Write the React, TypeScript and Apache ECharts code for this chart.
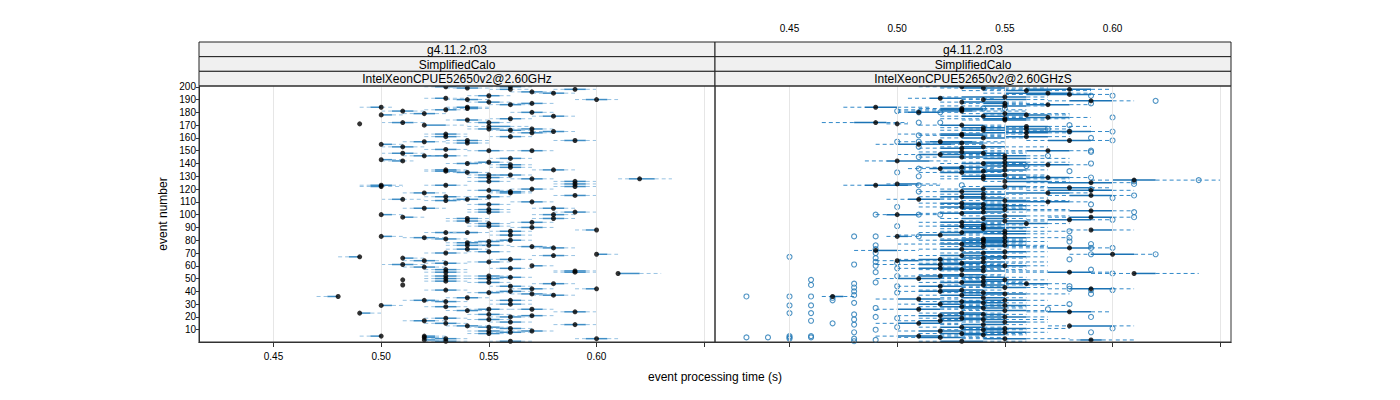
import React, { useEffect, useRef } from "react";
import * as echarts from "echarts";

// ---------- data ----------
const X_TICKS = [0.45, 0.5, 0.55, 0.6, 0.65];
const X_LABELS = [0.45, 0.5, 0.55, 0.6];
const Y_TICKS = [10, 20, 30, 40, 50, 60, 70, 80, 90, 100, 110, 120, 130, 140, 150, 160, 170, 180, 190, 200];
const STRIP_1 = ["g4.11.2.r03", "g4.11.2.r03"];
const STRIP_2 = ["SimplifiedCalo", "SimplifiedCalo"];
const STRIP_3 = ["IntelXeonCPUE52650v2@2.60GHz", "IntelXeonCPUE52650v2@2.60GHzS"];
const X_TITLE = "event processing time (s)";
const Y_TITLE = "event number";

// [event, lowerWhisker, q1, median, q3, upperWhisker]
const LEFT_STATS = [
  [200, .52, .525, .53, .535, .54], [199, .53, .535, .54, .545, .55], [200, .55, .555, .56, .565, .57],
  [198, .55, .555, .56, .56, .57], [198, .58, .585, .59, .595, .60], [196, .56, .565, .57, .575, .58],
  [195, .57, .575, .58, .585, .59], [193, .54, .545, .55, .555, .56], [191, .52, .525, .53, .53, .54],
  [190, .53, .535, .54, .545, .55], [190, .59, .595, .60, .605, .61], [188, .54, .545, .55, .555, .56],
  [187, .56, .565, .57, .575, .58], [186, .55, .555, .56, .565, .57], [184, .49, .495, .50, .50, .505],
  [184, .53, .535, .54, .545, .55], [183, .53, .54, .54, .545, .55], [182, .52, .525, .53, .535, .54],
  [181, .50, .505, .51, .515, .52], [180, .56, .565, .57, .575, .58], [179, .51, .515, .52, .525, .53],
  [178, .50, .50, .50, .505, .51], [177, .57, .575, .58, .585, .59], [175, .55, .555, .56, .565, .57],
  [174, .53, .535, .54, .545, .55], [172, .54, .545, .55, .555, .56], [172, .50, .505, .51, .515, .52],
  [171, .49, .49, .49, .49, .49], [170, .52, .52, .52, .53, .54], [169, .54, .55, .55, .56, .57],
  [167, .54, .545, .55, .555, .56], [167, .56, .565, .57, .575, .58], [166, .55, .555, .56, .565, .57],
  [165, .57, .575, .58, .585, .59], [164, .56, .565, .57, .575, .58], [163, .52, .525, .53, .535, .54],
  [161, .52, .525, .53, .535, .54], [161, .55, .555, .56, .565, .57], [158, .58, .585, .59, .595, .60],
  [158, .53, .535, .54, .545, .55], [157, .51, .515, .52, .525, .53], [156, .53, .535, .54, .545, .55],
  [155, .50, .50, .50, .505, .51], [153, .50, .505, .51, .515, .52], [151, .52, .525, .53, .535, .54],
  [150, .54, .545, .55, .555, .56], [150, .56, .565, .57, .575, .58], [148, .50, .505, .51, .515, .52],
  [146, .51, .515, .52, .525, .53], [146, .52, .525, .53, .535, .54], [144, .55, .555, .56, .565, .57],
  [143, .50, .50, .50, .505, .51], [142, .50, .505, .51, .51, .515], [141, .54, .545, .55, .555, .56],
  [140, .53, .535, .54, .545, .55], [139, .55, .555, .56, .565, .57], [137, .55, .555, .56, .565, .57],
  [135, .52, .525, .53, .535, .54], [135, .57, .575, .58, .585, .59], [134, .52, .525, .53, .535, .54],
  [133, .53, .535, .54, .545, .55], [131, .54, .545, .55, .555, .56], [131, .55, .555, .56, .565, .57],
  [129, .54, .545, .55, .555, .56], [128, .56, .565, .57, .575, .58], [128, .61, .615, .62, .627, .635],
  [126, .58, .585, .59, .595, .60], [126, .54, .545, .55, .555, .56], [124, .58, .585, .59, .595, .60],
  [123, .49, .495, .50, .505, .51], [123, .52, .525, .53, .535, .54], [122, .58, .585, .59, .595, .60],
  [122, .49, .495, .50, .50, .51], [120, .56, .565, .57, .575, .58], [119, .54, .545, .55, .555, .56],
  [118, .55, .555, .56, .565, .57], [117, .51, .515, .52, .525, .53], [117, .55, .555, .56, .565, .57],
  [115, .58, .585, .59, .595, .60], [114, .54, .545, .55, .555, .56], [114, .52, .525, .53, .535, .54],
  [112, .50, .505, .51, .51, .52], [112, .53, .535, .54, .545, .55], [111, .52, .525, .53, .535, .54],
  [110, .56, .565, .57, .575, .58], [108, .54, .545, .55, .555, .56], [105, .57, .575, .58, .585, .59],
  [105, .51, .515, .52, .525, .53], [104, .54, .545, .55, .555, .56], [102, .58, .585, .59, .595, .60],
  [102, .54, .545, .55, .555, .56], [100, .50, .50, .50, .505, .51], [100, .57, .575, .58, .585, .59],
  [98, .51, .51, .51, .515, .52], [97, .57, .575, .58, .585, .59], [97, .53, .535, .54, .545, .55],
  [95, .53, .535, .54, .545, .55], [94, .56, .565, .57, .575, .58], [93, .54, .545, .55, .555, .56],
  [91, .54, .545, .55, .555, .56], [90, .56, .565, .57, .575, .58], [88, .59, .595, .60, .60, .60],
  [87, .55, .555, .56, .565, .57], [86, .52, .525, .53, .535, .54], [86, .53, .535, .54, .545, .55],
  [84, .55, .555, .56, .565, .57], [83, .50, .50, .50, .505, .51], [82, .51, .515, .52, .525, .53],
  [81, .52, .525, .53, .535, .54], [80, .55, .555, .56, .565, .57], [79, .54, .545, .55, .555, .56],
  [78, .53, .535, .54, .545, .55], [76, .54, .545, .55, .555, .56], [76, .53, .535, .54, .545, .55],
  [75, .56, .565, .57, .575, .58], [74, .57, .575, .58, .585, .59], [73, .53, .535, .54, .545, .55],
  [71, .54, .545, .55, .555, .56], [70, .52, .525, .53, .535, .54], [69, .60, .60, .60, .605, .61],
  [68, .57, .575, .58, .585, .59], [67, .48, .485, .49, .49, .49], [66, .51, .51, .51, .515, .52],
  [65, .55, .555, .56, .565, .57], [64, .51, .515, .52, .525, .53], [63, .54, .545, .55, .555, .56],
  [62, .52, .525, .53, .535, .54], [61, .50, .505, .51, .515, .52], [60, .57, .57, .57, .575, .58],
  [59, .51, .515, .52, .525, .53], [58, .55, .555, .56, .565, .57], [57, .52, .525, .53, .535, .54],
  [56, .58, .585, .59, .595, .60], [55, .58, .585, .59, .595, .60], [55, .52, .525, .53, .535, .54],
  [54, .61, .61, .61, .62, .63], [52, .54, .545, .55, .555, .56], [52, .52, .525, .53, .535, .54],
  [51, .55, .555, .56, .565, .57], [50, .52, .525, .53, .535, .54], [50, .54, .545, .55, .555, .56],
  [49, .51, .51, .51, .51, .51], [48, .52, .525, .53, .535, .54], [47, .54, .545, .55, .555, .56],
  [46, .57, .575, .58, .585, .59], [45, .51, .51, .51, .51, .51], [44, .55, .555, .56, .565, .57],
  [42, .56, .565, .57, .575, .58], [42, .59, .595, .60, .60, .60], [41, .52, .525, .53, .535, .54],
  [40, .55, .555, .56, .565, .57], [39, .54, .545, .55, .555, .56], [38, .56, .565, .57, .575, .58],
  [37, .57, .575, .58, .585, .59], [36, .47, .475, .48, .48, .48], [35, .53, .535, .54, .545, .55],
  [33, .51, .515, .52, .525, .53], [33, .55, .555, .56, .565, .57], [32, .52, .525, .53, .535, .54],
  [30, .55, .555, .56, .565, .57], [29, .50, .50, .50, .505, .51], [28, .52, .525, .53, .535, .54],
  [26, .54, .545, .55, .555, .56], [26, .56, .565, .57, .575, .58], [25, .53, .535, .54, .545, .55],
  [24, .58, .585, .59, .595, .60], [23, .49, .49, .49, .495, .50], [22, .54, .545, .55, .555, .56],
  [21, .56, .565, .57, .575, .58], [20, .55, .555, .56, .565, .57], [19, .52, .525, .53, .535, .54],
  [18, .54, .545, .55, .555, .56], [17, .51, .515, .52, .525, .53], [16, .55, .555, .56, .565, .57],
  [15, .52, .525, .53, .535, .54], [14, .58, .585, .59, .595, .60], [13, .53, .535, .54, .545, .55],
  [12, .54, .545, .55, .555, .56], [11, .55, .555, .56, .565, .57], [9, .56, .565, .57, .575, .58],
  [9, .54, .545, .55, .555, .56], [8, .55, .555, .56, .565, .57], [7, .54, .545, .55, .555, .56],
  [5, .49, .495, .50, .50, .50], [5, .52, .52, .52, .525, .53], [4, .52, .52, .52, .525, .53],
  [3, .59, .595, .60, .605, .61], [3, .52, .525, .53, .535, .54], [2, .52, .52, .52, .525, .53],
  [1, .55, .555, .56, .565, .57], [1, .52, .525, .53, .535, .54],
];

const RIGHT_STATS = [
  [200, .51, .52, .53, .54, .55], [199, .52, .53, .54, .55, .57], [198, .54, .56, .58, .59, .60],
  [197, .53, .55, .56, .57, .59], [195, .54, .55, .57, .58, .59], [194, .55, .56, .58, .59, .60],
  [192, .52, .53, .55, .56, .57], [191, .505, .515, .52, .53, .545], [190, .53, .54, .54, .56, .57],
  [189, .57, .58, .59, .60, .61], [188, .52, .53, .53, .55, .56], [187, .53, .54, .55, .55, .57],
  [186, .55, .56, .57, .58, .59], [185, .52, .54, .55, .56, .57], [184, .475, .485, .49, .50, .515],
  [183, .51, .52, .53, .54, .55], [182, .50, .52, .53, .54, .56], [181, .50, .52, .53, .535, .56],
  [180, .50, .505, .51, .52, .53], [179, .53, .54, .55, .56, .58], [178, .54, .55, .56, .57, .58],
  [177, .52, .53, .54, .55, .56], [176, .55, .56, .57, .58, .59], [175, .52, .54, .55, .56, .58],
  [174, .53, .54, .55, .56, .57], [172, .465, .48, .49, .495, .505], [171, .495, .50, .50, .50, .505],
  [170, .51, .52, .53, .54, .55], [169, .54, .55, .56, .57, .59], [168, .52, .53, .54, .55, .56],
  [167, .53, .55, .56, .57, .58], [166, .52, .53, .54, .55, .57], [165, .55, .56, .58, .59, .60],
  [164, .53, .54, .56, .57, .58], [163, .50, .52, .53, .54, .56], [162, .51, .52, .53, .54, .55],
  [161, .54, .55, .56, .57, .58], [160, .52, .53, .54, .55, .56], [158, .56, .57, .58, .59, .60],
  [157, .50, .515, .52, .535, .55], [156, .51, .52, .53, .54, .55], [155, .49, .50, .51, .525, .54],
  [153, .52, .53, .54, .55, .57], [152, .51, .52, .53, .54, .55], [150, .54, .56, .57, .58, .59],
  [149, .51, .52, .53, .54, .56], [148, .52, .53, .54, .55, .56], [147, .50, .51, .52, .53, .55],
  [146, .53, .54, .55, .56, .57], [145, .51, .52, .53, .54, .55], [144, .53, .54, .55, .56, .58],
  [142, .485, .495, .50, .515, .525], [141, .53, .54, .55, .56, .58], [140, .52, .53, .54, .55, .56],
  [139, .54, .55, .57, .58, .59], [138, .53, .54, .55, .56, .57], [137, .51, .52, .53, .54, .55],
  [136, .505, .515, .52, .53, .545], [135, .53, .54, .55, .56, .57], [134, .52, .53, .54, .55, .56],
  [133, .51, .52, .53, .54, .55], [131, .53, .54, .55, .56, .57], [130, .52, .53, .54, .55, .57],
  [129, .55, .56, .57, .58, .59], [128, .52, .53, .54, .56, .58], [127, .59, .60, .61, .62, .65],
  [126, .54, .55, .55, .57, .58], [125, .56, .57, .59, .60, .61], [124, .495, .50, .50, .51, .52],
  [123, .475, .485, .49, .505, .52], [122, .53, .54, .55, .56, .57], [121, .55, .57, .58, .59, .60],
  [120, .52, .53, .54, .55, .56], [119, .56, .57, .59, .60, .61], [118, .51, .52, .53, .54, .55],
  [117, .54, .55, .57, .58, .59], [116, .52, .53, .54, .55, .56], [115, .57, .58, .59, .60, .61],
  [114, .51, .52, .53, .54, .55], [113, .52, .53, .54, .55, .57], [112, .495, .505, .51, .52, .53],
  [111, .53, .54, .55, .56, .58], [110, .54, .55, .57, .58, .59], [109, .51, .52, .53, .54, .55],
  [108, .52, .53, .54, .55, .56], [107, .53, .54, .55, .56, .57], [106, .51, .52, .53, .54, .56],
  [105, .52, .53, .54, .55, .56], [104, .53, .54, .55, .56, .58], [103, .56, .58, .59, .60, .61],
  [102, .52, .53, .54, .55, .56], [101, .51, .52, .53, .54, .55], [100, .49, .495, .50, .51, .52],
  [99, .53, .54, .55, .56, .58], [98, .57, .58, .59, .60, .61], [97, .52, .53, .54, .55, .56],
  [96, .56, .57, .58, .59, .60], [95, .53, .54, .55, .56, .57], [94, .51, .52, .53, .54, .55],
  [93, .54, .55, .56, .57, .58], [92, .52, .53, .54, .55, .56], [91, .51, .52, .53, .54, .55],
  [90, .53, .54, .54, .56, .57], [89, .52, .53, .54, .55, .56], [88, .58, .59, .59, .60, .61],
  [87, .52, .53, .55, .56, .58], [86, .51, .52, .53, .54, .55], [85, .53, .54, .55, .56, .57],
  [84, .50, .51, .52, .53, .54], [83, .495, .50, .50, .505, .51], [82, .53, .54, .55, .56, .58],
  [81, .52, .53, .54, .55, .56], [80, .51, .52, .54, .55, .56], [79, .53, .54, .55, .56, .57],
  [78, .52, .53, .54, .55, .56], [77, .50, .52, .53, .54, .56], [76, .53, .54, .55, .56, .57],
  [75, .52, .53, .54, .55, .57], [74, .55, .57, .58, .59, .60], [73, .51, .52, .53, .54, .55],
  [72, .48, .49, .49, .50, .51], [71, .53, .54, .55, .56, .57], [70, .52, .53, .54, .55, .56],
  [69, .58, .59, .60, .61, .62], [68, .51, .52, .53, .54, .55], [67, .53, .54, .55, .56, .57],
  [66, .52, .53, .54, .55, .56], [65, .50, .51, .52, .53, .55], [64, .49, .50, .50, .51, .53],
  [63, .52, .53, .54, .55, .57], [62, .51, .52, .53, .54, .56], [61, .49, .51, .52, .53, .55],
  [60, .53, .54, .55, .56, .57], [59, .52, .53, .54, .55, .56], [58, .50, .51, .52, .53, .55],
  [57, .51, .52, .53, .54, .56], [56, .52, .53, .54, .55, .57], [55, .55, .57, .58, .59, .60],
  [54, .59, .61, .61, .62, .64], [53, .51, .52, .53, .54, .55], [52, .50, .51, .52, .53, .55],
  [51, .52, .53, .54, .55, .56], [50, .49, .50, .51, .52, .54], [49, .53, .54, .55, .56, .57],
  [48, .52, .53, .54, .55, .56], [47, .51, .52, .53, .54, .56], [46, .54, .55, .56, .57, .58],
  [45, .52, .53, .54, .55, .57], [44, .50, .51, .52, .53, .55], [43, .53, .54, .55, .56, .57],
  [42, .57, .58, .59, .60, .61], [41, .51, .52, .53, .54, .55], [40, .50, .51, .52, .53, .54],
  [39, .52, .53, .54, .55, .56], [38, .53, .54, .55, .56, .58], [37, .51, .52, .53, .54, .55],
  [36, .465, .47, .47, .475, .48], [35, .52, .53, .54, .55, .56], [34, .49, .50, .51, .52, .53],
  [33, .53, .54, .55, .56, .57], [32, .51, .52, .53, .54, .55], [31, .52, .53, .54, .55, .56],
  [30, .50, .51, .52, .53, .55], [29, .53, .54, .55, .56, .58], [28, .51, .52, .53, .54, .56],
  [27, .52, .53, .54, .55, .56], [26, .49, .50, .51, .52, .54], [25, .53, .54, .55, .56, .57],
  [24, .56, .57, .58, .59, .60], [23, .51, .52, .53, .54, .55], [22, .52, .53, .54, .55, .56],
  [21, .50, .51, .52, .53, .55], [20, .53, .54, .55, .56, .57], [19, .51, .52, .53, .54, .55],
  [18, .52, .53, .54, .55, .57], [17, .50, .51, .52, .53, .54], [16, .53, .54, .55, .56, .57],
  [15, .49, .50, .51, .52, .53], [14, .52, .53, .54, .55, .56], [13, .57, .58, .58, .60, .61],
  [12, .51, .52, .53, .54, .55], [11, .53, .54, .55, .56, .58], [10, .52, .53, .54, .55, .56],
  [9, .50, .51, .52, .53, .55], [8, .53, .54, .55, .56, .57], [7, .51, .52, .53, .54, .56],
  [6, .52, .53, .54, .55, .56], [5, .49, .50, .51, .52, .54], [4, .50, .51, .52, .53, .55],
  [3, .53, .54, .55, .56, .58], [2, .58, .585, .59, .595, .61], [1, .51, .52, .53, .54, .56],
];

// [event, value]
const RIGHT_OUTLIERS = [
  [193, .59], [193, .60], [189, .62], [183, .54], [183, .55], [181, .50], [180, .51], [180, .52],
  [176, .60], [172, .51], [172, .52], [167, .57], [165, .60], [165, .58], [158, .60], [157, .50],
  [157, .51], [153, .51], [150, .59], [146, .57], [140, .59], [138, .56], [136, .51], [136, .53],
  [133, .50], [129, .59], [127, .64], [126, .61], [124, .61], [123, .51], [123, .53], [115, .61],
  [102, .61], [100, .49], [100, .51], [100, .52], [98, .61], [96, .60], [87, .58], [83, .48],
  [83, .49], [83, .51], [82, .58], [79, .58], [74, .59], [74, .60], [69, .59], [69, .62],
  [67, .45], [61, .48], [54, .60], [49, .46], [46, .48], [45, .46], [43, .48], [42, .58],
  [41, .59], [41, .60], [40, .48], [36, .43], [36, .45], [36, .46], [35, .47], [33, .47],
  [29, .45], [29, .46], [23, .45], [23, .46], [17, .46], [15, .47], [5, .45], [5, .46],
  [4, .43], [4, .44], [4, .45], [4, .46], [3, .45], [2, .49], [1, .48], [3, .48], [8, .48],
  [14, .48], [18, .48], [22, .48], [31, .48], [37, .48], [55, .49], [60, .49], [63, .49],
  [66, .49], [70, .49], [73, .49], [76, .49], [10, .49], [20, .49], [27, .49], [47, .49],
  [52, .50], [58, .50], [62, .50], [12, .50], [19, .50], [39, .50], [44, .50], [91, .50],
  [106, .50], [118, .51], [130, .51], [145, .51], [162, .51], [38, .59], [44, .58], [20, .59],
  [11, .60], [8, .59], [26, .57], [30, .58], [57, .59], [65, .58], [77, .59], [108, .59],
  [113, .60], [120, .59], [134, .58], [149, .59], [160, .59], [170, .58], [187, .59],
];

// ---------- layout / style ----------
const X_MIN = 0.4154;
const X_MAX = 0.655;
const Y_MIN = 0.4;
const Y_MAX = 200.6;
const FONT = "Liberation Sans, Arial, Helvetica, sans-serif";
const PANEL_LEFT = [199, 715];
const PANEL_W = 516;
const PLOT_TOP = 86;
const PLOT_H = 256;
const STRIP_TOP = 42;
const STRIP_H = 14.67;

function boxSeries(idx: number, data: number[][], boxColor: string, whiskColor: string, boxWidth: number) {
  return {
    type: "custom",
    xAxisIndex: idx,
    yAxisIndex: idx,
    clip: true,
    z: 3,
    data,
    encode: { x: [1, 2, 3, 4, 5], y: 0 },
    renderItem: (params: any, api: any) => {
      const e = api.value(0);
      const pLo = api.coord([api.value(1), e]);
      const pQ1 = api.coord([api.value(2), e]);
      const pQ3 = api.coord([api.value(4), e]);
      const pHi = api.coord([api.value(5), e]);
      const children: any[] = [];
      if (pQ1[0] - pLo[0] > 0.5) {
        children.push({
          type: "line",
          shape: { x1: pLo[0], y1: pLo[1], x2: pQ1[0], y2: pQ1[1] },
          style: { stroke: whiskColor, lineWidth: 1, lineDash: [4, 3] },
        });
      }
      if (pHi[0] - pQ3[0] > 0.5) {
        children.push({
          type: "line",
          shape: { x1: pQ3[0], y1: pQ3[1], x2: pHi[0], y2: pHi[1] },
          style: { stroke: whiskColor, lineWidth: 1, lineDash: [4, 3] },
        });
      }
      if (pQ3[0] - pQ1[0] > 0.5) {
        children.push({
          type: "line",
          shape: { x1: pQ1[0], y1: pQ1[1], x2: pQ3[0], y2: pQ3[1] },
          style: { stroke: boxColor, lineWidth: boxWidth },
        });
      }
      return { type: "group", children };
    },
  };
}

function gridSeries(idx: number) {
  return {
    type: "line",
    xAxisIndex: idx,
    yAxisIndex: idx,
    data: [],
    z: 1,
    silent: true,
    markLine: {
      silent: true,
      symbol: ["none", "none"],
      label: { show: false },
      lineStyle: { color: "#e6e6e6", type: "solid", width: 1 },
      data: X_TICKS.map((v) => ({ xAxis: v })),
    },
  };
}

function xAxisDef(gridIndex: number, position: string, labels: boolean) {
  return {
    type: "value",
    gridIndex,
    position,
    min: X_MIN,
    max: X_MAX,
    axisLine: { show: true, lineStyle: { color: "#333", width: 1 } },
    axisTick: { show: true, inside: false, length: 5, customValues: X_TICKS, lineStyle: { color: "#333" } },
    axisLabel: {
      show: labels,
      customValues: X_LABELS,
      formatter: (v: number) => v.toFixed(2),
      fontSize: 10,
      color: "#000",
      fontFamily: FONT,
      margin: 9,
    },
    splitLine: { show: false },
  };
}

function buildOption() {
  const graphics: any[] = [];
  const stripTexts = [STRIP_1, STRIP_2, STRIP_3];
  for (let p = 0; p < 2; p++) {
    for (let s = 0; s < 3; s++) {
      graphics.push({
        type: "rect",
        z: 20,
        shape: { x: PANEL_LEFT[p], y: STRIP_TOP + s * STRIP_H, width: PANEL_W, height: STRIP_H },
        style: { fill: "#f0f0f0", stroke: "#222", lineWidth: 1 },
      });
      graphics.push({
        type: "text",
        z: 21,
        x: PANEL_LEFT[p] + PANEL_W / 2,
        y: STRIP_TOP + s * STRIP_H + STRIP_H / 2 + 0.5,
        style: {
          text: stripTexts[s][p],
          fill: "#000",
          font: "12px " + FONT,
          align: "center",
          verticalAlign: "middle",
        },
      });
    }
    graphics.push({
      type: "rect",
      z: 20,
      shape: { x: PANEL_LEFT[p], y: PLOT_TOP, width: PANEL_W, height: PLOT_H },
      style: { fill: "none", stroke: "#333", lineWidth: 1 },
    });
  }
  graphics.push({
    type: "text",
    z: 21,
    x: 715,
    y: 377,
    style: { text: X_TITLE, fill: "#000", font: "12px " + FONT, align: "center", verticalAlign: "middle" },
  });
  graphics.push({
    type: "text",
    z: 21,
    x: 163,
    y: 214,
    rotation: Math.PI / 2,
    style: { text: Y_TITLE, fill: "#000", font: "12px " + FONT, align: "center", verticalAlign: "middle" },
  });

  const plotGrid = (p: number) => ({ left: PANEL_LEFT[p], top: PLOT_TOP, width: PANEL_W, height: PLOT_H });
  const frameGrid = (p: number) => ({ left: PANEL_LEFT[p], top: STRIP_TOP, width: PANEL_W, height: PLOT_TOP + PLOT_H - STRIP_TOP });

  return {
    animation: false,
    backgroundColor: "#fff",
    textStyle: { fontFamily: FONT },
    grid: [plotGrid(0), plotGrid(1), frameGrid(0), frameGrid(1)],
    xAxis: [
      xAxisDef(0, "bottom", true),
      xAxisDef(1, "bottom", false),
      xAxisDef(2, "top", false),
      xAxisDef(3, "top", true),
    ],
    yAxis: [
      {
        type: "value",
        gridIndex: 0,
        min: Y_MIN,
        max: Y_MAX,
        axisLine: { show: true, lineStyle: { color: "#333" } },
        axisTick: { show: true, inside: false, length: 3, customValues: Y_TICKS, lineStyle: { color: "#333" } },
        axisLabel: { show: true, customValues: Y_TICKS, fontSize: 10, color: "#000", fontFamily: FONT, margin: 3 },
        splitLine: { show: false },
      },
      {
        type: "value",
        gridIndex: 1,
        min: Y_MIN,
        max: Y_MAX,
        axisLine: { show: false },
        axisTick: { show: false },
        axisLabel: { show: false },
        splitLine: { show: false },
      },
      { type: "value", gridIndex: 2, min: 0, max: 1, show: false },
      { type: "value", gridIndex: 3, min: 0, max: 1, show: false },
    ],
    series: [
      gridSeries(0),
      gridSeries(1),
      boxSeries(0, LEFT_STATS, "#3f8ec6", "#98c3e3", 1.5),
      boxSeries(1, RIGHT_STATS, "#1b73b5", "#3289c9", 1.5),
      {
        type: "scatter",
        xAxisIndex: 1,
        yAxisIndex: 1,
        z: 4,
        symbol: "circle",
        symbolSize: 5,
        data: RIGHT_OUTLIERS.map((o) => [o[1], o[0]]),
        itemStyle: { color: "rgba(0,0,0,0)", borderColor: "#1f77b4", borderWidth: 1.1 },
      },
      {
        type: "scatter",
        xAxisIndex: 0,
        yAxisIndex: 0,
        z: 5,
        symbol: "circle",
        symbolSize: 5,
        data: LEFT_STATS.map((s) => [s[3], s[0]]),
        itemStyle: { color: "#000" },
      },
      {
        type: "scatter",
        xAxisIndex: 1,
        yAxisIndex: 1,
        z: 5,
        symbol: "circle",
        symbolSize: 5,
        data: RIGHT_STATS.map((s) => [s[3], s[0]]),
        itemStyle: { color: "#000" },
      },
    ],
    graphic: graphics,
  };
}

export default function App() {
  const ref = useRef<HTMLDivElement>(null);
  useEffect(() => {
    if (!ref.current) return;
    const chart = echarts.init(ref.current, undefined, { renderer: "svg" });
    chart.setOption(buildOption() as any);
    return () => chart.dispose();
  }, []);
  return (
    <div
      ref={ref}
      style={{ position: "fixed", left: 0, top: 0, width: 1400, height: 400, background: "#fff" }}
    />
  );
}
